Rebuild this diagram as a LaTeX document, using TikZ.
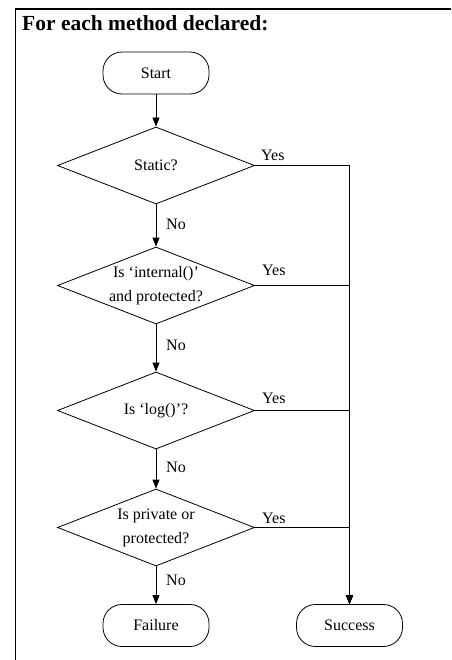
\documentclass[tikz,border=0pt]{standalone}
\usepackage{fontspec}
\setmainfont{Liberation Serif}
\usetikzlibrary{shapes.geometric,arrows.meta}
\begin{document}
\begin{tikzpicture}[x=1pt,y=-1pt,
  every node/.style={font=\fontsize{16}{24}\selectfont},
  terminal/.style={draw, rectangle, rounded corners=19pt, minimum width=106pt,
    minimum height=42pt, inner sep=0pt, line width=0.8pt},
  decision/.style={draw, diamond, minimum width=197pt, minimum height=77pt,
    inner sep=0pt, line width=0.8pt},
  flow/.style={line width=0.8pt, -{Triangle[length=9pt,width=7pt]}},
  lbl/.style={anchor=base west, inner sep=0pt},
  ]
\useasboundingbox (0,0) rectangle (451,660);
% frame around the flowchart
\draw[line width=1.2pt] (15.5,660) -- (15.5,9) -- (451,9);
\node[anchor=base west, inner sep=0pt, font=\fontsize{21.5}{24}\selectfont\bfseries]
  (title) at (22,31) {For each method declared:};

% nodes
\node[terminal] (start) at (156,73) {Start};
\node[decision] (d1) at (156,165.5) {};
\node (d1t) at (d1) {Static?};
\node[decision] (d2) at (156,285.5) {};
\node[align=center] (d2t) at (d2) {Is ‘internal()’\\and protected?};
\node[decision] (d3) at (156,410.5) {};
\node (d3t) at (d3) {Is ‘log()’?};
\node[decision] (d4) at (156,527.5) {};
\node[align=center] (d4t) at (d4) {Is private or\\protected?};
\node[terminal] (fail) at (156,625.5) {Failure};
\node[terminal] (succ) at (349.5,625.5) {Success};

% "no" path
\draw[flow] (start) -- (d1);
\draw[flow] (d1.south) -- (d2.north);
\draw[flow] (d2.south) -- (d3.north);
\draw[flow] (d3.south) -- (d4.north);
\draw[flow] (d4.south) -- (fail.north);
\node[lbl] (no1) at (166,229) {No};
\node[lbl] (no2) at (166,350) {No};
\node[lbl] (no3) at (166,472) {No};
\node[lbl] (no4) at (166,585) {No};

% "yes" paths
\draw[flow] (d1.east) -| (succ.north);
\draw[flow] (d2.east) -| (succ.north);
\draw[flow] (d3.east) -| (succ.north);
\draw[flow] (d4.east) -| (succ.north);
\node[lbl] (yes1) at (261,161) {Yes};
\node[lbl] (yes2) at (262,275) {Yes};
\node[lbl] (yes3) at (262,403) {Yes};
\node[lbl] (yes4) at (262,523) {Yes};
\end{tikzpicture}
\end{document}
